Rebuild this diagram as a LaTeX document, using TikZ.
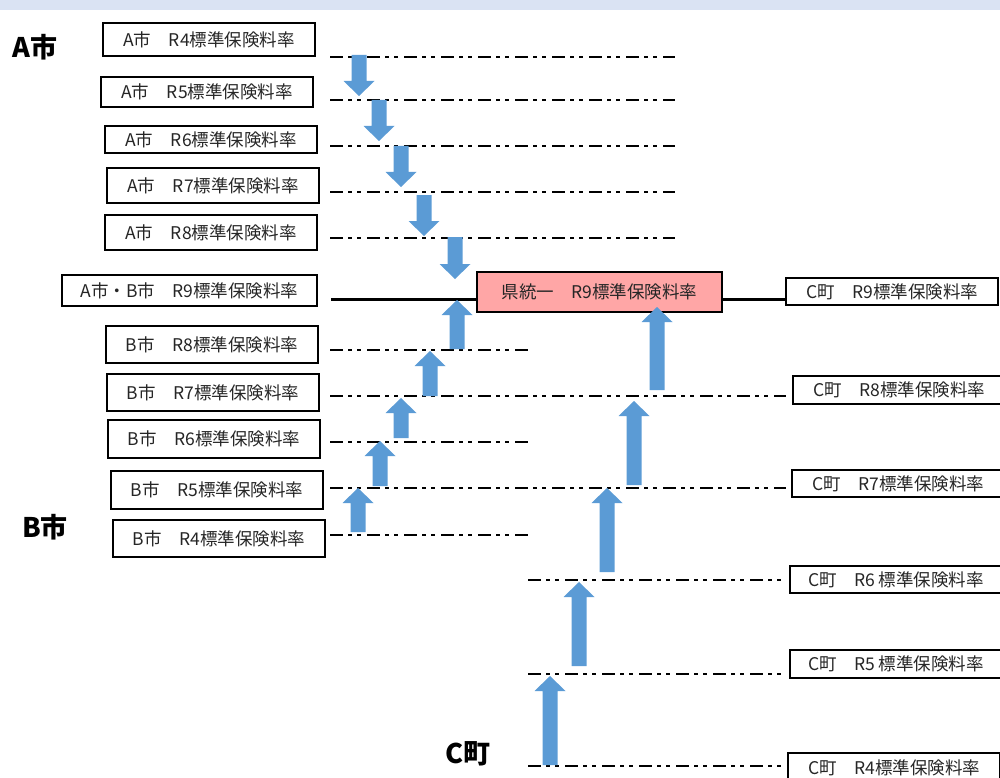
\documentclass[tikz,border=0pt]{standalone}
\usepackage{fontspec}
\setmainfont{Noto Sans CJK JP}
\definecolor{arrowblue}{HTML}{5B9BD5}
\definecolor{topband}{HTML}{DAE3F3}
\definecolor{pinkfill}{HTML}{FFA6A6}
\definecolor{txt}{HTML}{262626}
\newcommand\uparrowblk[3]{% x, ybottom, ytip
  \fill[arrowblue] ({#1-7.5},#2) -- ({#1+7.5},#2) -- ({#1+7.5},{#3+15}) -- ({#1+15.5},{#3+15}) -- (#1,#3) -- ({#1-15.5},{#3+15}) -- ({#1-7.5},{#3+15}) -- cycle;}
\newcommand\downarrowblk[3]{% x, ytop, ytip
  \fill[arrowblue] ({#1-7.5},#2) -- ({#1+7.5},#2) -- ({#1+7.5},{#3-15}) -- ({#1+15.5},{#3-15}) -- (#1,#3) -- ({#1-15.5},{#3-15}) -- ({#1-7.5},{#3-15}) -- cycle;}
\begin{document}
\begin{tikzpicture}[x=1pt,y=-1pt,
  box/.style={draw=black, line width=1.2pt, fill=white, inner sep=0pt, text=txt,
    font=\fontsize{17.5}{19}\selectfont, minimum width=212pt},
  ddline/.style={line width=1.8pt, dash pattern=on 13pt off 5pt on 4pt off 5pt on 4pt off 6pt},
  solidline/.style={line width=3pt},
  biglabel/.style={font=\fontsize{27}{29}\selectfont\bfseries, inner sep=0pt, text=black}]
\useasboundingbox (0,0) rectangle (1000,778);
\clip (0,0) rectangle (1000,778);
\fill[topband] (0,0) rectangle (1000,10);

% big labels
\node[biglabel] (lA) at (35,47) {A市};
\node[biglabel] (lB) at (45,527) {B市};
\node[biglabel] (lC) at (468,754) {C町};

% dash-dot lines (A side)
\foreach \y/\n in {57/a4,100/a5,146/a6,192/a7,238/a8}{
  \coordinate (\n L) at (330,\y);
  \coordinate (\n R) at (675,\y);
  \draw[ddline] (\n L) -- (\n R);
}
% B side short lines
\foreach \y/\n in {350/b8,442/b6,535/b4}{
  \coordinate (\n L) at (330,\y);
  \coordinate (\n R) at (530,\y);
  \draw[ddline] (\n L) -- (\n R);
}
% long lines B->C
\foreach \y/\n in {396/b7,488/b5}{
  \coordinate (\n L) at (330,\y);
  \coordinate (\n R) at (786,\y);
  \draw[ddline] (\n L) -- (\n R);
}
% C side lines
\foreach \y/\n in {580/c6,674/c5,766/c4}{
  \coordinate (\n L) at (528,\y);
  \coordinate (\n R) at (786,\y);
  \draw[ddline] (\n L) -- (\n R);
}

% boxes A
\node[box, minimum height=33pt] (a4) at (209,39.5) {A市　R4標準保険料率};
\node[box, minimum height=30pt] (a5) at (207,92) {A市　R5標準保険料率};
\node[box, minimum height=27pt] (a6) at (211,139.5) {A市　R6標準保険料率};
\node[box, minimum height=35pt] (a7) at (213,185.5) {A市　R7標準保険料率};
\node[box, minimum height=35pt] (a8) at (211,232.5) {A市　R8標準保険料率};
\node[box, minimum height=31pt, minimum width=255pt] (ab9) at (189.5,290.5) {A市・B市　R9標準保険料率};
% boxes B
\node[box, minimum height=37pt] (b8) at (212,344.5) {B市　R8標準保険料率};
\node[box, minimum height=37pt] (b7) at (213,392.5) {B市　R7標準保険料率};
\node[box, minimum height=38pt] (b6) at (214,439) {B市　R6標準保険料率};
\node[box, minimum height=38pt] (b5) at (217,490) {B市　R5標準保険料率};
\node[box, minimum height=37pt] (b4) at (219,538.5) {B市　R4標準保険料率};
% prefecture box
\node[box, minimum height=40pt, minimum width=245pt, fill=pinkfill] (ken) at (599.5,292) {県統一　R9標準保険料率};
% boxes C
\node[box, minimum height=27pt] (c9) at (892,291.5) {C町　R9標準保険料率};
\node[box, minimum height=28pt] (c8) at (899,390) {C町　R8標準保険料率};
\node[box, minimum height=27pt] (c7) at (898,483.5) {C町　R7標準保険料率};
\node[box, minimum height=27pt] (c6) at (896,579.5) {C町　R6 標準保険料率};
\node[box, minimum height=28pt] (c5) at (896,664) {C町　R5 標準保険料率};
\node[box, minimum height=30pt] (c4) at (894,768) {C町　R4標準保険料率};

% solid R9 lines
\coordinate (r9L) at (331,299);
\draw[solidline] (r9L) -- (ken.west |- r9L);
\draw[solidline] (ken.east |- r9L) -- (c9.west |- r9L);

% arrows A (down)
\downarrowblk{359}{55}{96}
\downarrowblk{379}{100}{141}
\downarrowblk{401}{146}{187}
\downarrowblk{424}{195}{236}
\downarrowblk{455}{237}{279}
% arrows B (up)
\uparrowblk{358}{532}{488}
\uparrowblk{380}{486}{441}
\uparrowblk{401}{438}{398}
\uparrowblk{430}{396}{351}
\uparrowblk{457}{349}{300}
% arrows C (up)
\uparrowblk{550}{765}{676}
\uparrowblk{579}{666}{582}
\uparrowblk{607}{572}{488}
\uparrowblk{634}{485}{401}
\uparrowblk{657}{390}{307}
\end{tikzpicture}
\end{document}
